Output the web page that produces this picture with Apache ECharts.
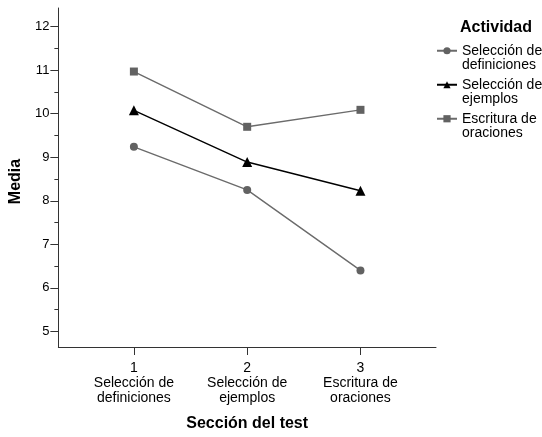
<!DOCTYPE html>
<html>
<head>
<meta charset="utf-8">
<script src="https://cdn.jsdelivr.net/npm/echarts@6/dist/echarts.min.js"></script>
<style>html,body{margin:0;padding:0;background:#fff;}#c{width:542px;height:437px;}</style>
</head>
<body>
<div id="c"></div>
<script>
var sectionNums = ['1', '2', '3'];
var sectionNames = ['Selección de\ndefiniciones', 'Selección de\nejemplos', 'Escritura de\noraciones'];
var seriesNames = ['Selección de\ndefiniciones', 'Selección de\nejemplos', 'Escritura de\noraciones'];
var defValues = [9.24, 8.25, 6.40];
var ejeValues = [10.08, 8.89, 8.23];
var oraValues = [10.97, 9.70, 10.09];
var yMajorTicks = [5, 6, 7, 8, 9, 10, 11, 12];
var yMinorTicks = [5.5, 6.5, 7.5, 8.5, 9.5, 10.5, 11.5];
var xTicks = [1, 2, 3];

var FONT = 'Liberation Sans';
function toPoints(vals) { return vals.map(function (v, i) { return [xTicks[i], v]; }); }

var chart = echarts.init(document.getElementById('c'), null, {renderer: 'canvas'});
chart.setOption({
  animation: false,
  backgroundColor: '#fff',
  textStyle: {fontFamily: FONT},
  title: {
    text: 'Actividad', left: 460, top: 20, padding: 0,
    textStyle: {fontFamily: FONT, fontSize: 16, fontWeight: 'bold', color: '#000'}
  },
  legend: {
    orient: 'vertical', left: 436, top: 29, padding: 0, itemGap: -9.5,
    itemWidth: 20, itemHeight: 9,
    formatter: function (name) { return ' \n' + name; },
    textStyle: {fontFamily: FONT, fontSize: 14, color: '#000', lineHeight: 14.5},
    data: seriesNames
  },
  grid: {left: 58, top: 8, right: 106, bottom: 82},
  xAxis: {
    type: 'value', min: 1 / 3, max: 11 / 3,
    splitLine: {show: false},
    axisLine: {show: true, onZero: false, lineStyle: {color: '#333', width: 1}},
    axisTick: {show: true, customValues: xTicks, length: 8, lineStyle: {color: '#333'}},
    axisLabel: {
      customValues: xTicks, margin: 14,
      formatter: function (v) {
        var i = xTicks.indexOf(Math.round(v));
        return '{t|' + sectionNums[i] + '}\n' + sectionNames[i].split('\n').map(function (s) { return '{t|' + s + '}'; }).join('\n');
      },
      rich: {t: {fontFamily: FONT, fontSize: 14, color: '#000', lineHeight: 15, align: 'center'}}
    },
    name: 'Sección del test', nameLocation: 'middle', nameGap: 69,
    nameTextStyle: {fontFamily: FONT, fontSize: 16, fontWeight: 'bold', color: '#000'}
  },
  yAxis: [{
    type: 'value', min: 4.64, max: 12.43, position: 'left',
    splitLine: {show: false},
    axisLine: {show: true, onZero: false, lineStyle: {color: '#333', width: 1}},
    axisTick: {show: true, customValues: yMajorTicks, length: 8, lineStyle: {color: '#333'}},
    axisLabel: {customValues: yMajorTicks, margin: 9, fontFamily: FONT, fontSize: 13, color: '#000'},
    name: 'Media', nameLocation: 'middle', nameGap: 33,
    nameTextStyle: {fontFamily: FONT, fontSize: 16, fontWeight: 'bold', color: '#000', padding: [0, 8, 0, 0]}
  }, {
    type: 'value', min: 4.64, max: 12.43, position: 'left', offset: 0,
    splitLine: {show: false},
    axisLine: {show: false},
    axisTick: {show: true, customValues: yMinorTicks, length: 4, lineStyle: {color: '#333'}},
    axisLabel: {show: false}
  }],
  series: [{
    name: seriesNames[0], type: 'line', data: toPoints(defValues),
    symbol: 'circle', symbolSize: 8,
    lineStyle: {color: '#6b6b6b', width: 1.4},
    itemStyle: {color: '#626262'}
  }, {
    name: seriesNames[1], type: 'line', data: toPoints(ejeValues),
    symbol: 'triangle', symbolSize: 10,
    lineStyle: {color: '#000', width: 1.4},
    itemStyle: {color: '#000'}
  }, {
    name: seriesNames[2], type: 'line', data: toPoints(oraValues),
    symbol: 'rect', symbolSize: 8,
    lineStyle: {color: '#6b6b6b', width: 1.4},
    itemStyle: {color: '#626262'}
  }]
});
</script>
</body>
</html>
